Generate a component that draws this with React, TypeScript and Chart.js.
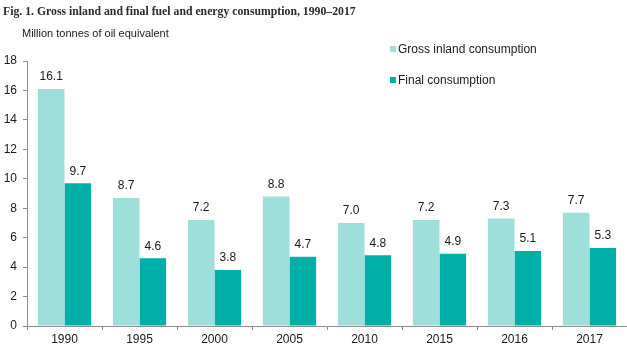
import React, { useEffect, useRef } from "react";
import { Chart, registerables } from "chart.js";

Chart.register(...registerables);

const categories = ["1990", "1995", "2000", "2005", "2010", "2015", "2016", "2017"];
const grossInland = [16.1, 8.7, 7.2, 8.8, 7.0, 7.2, 7.3, 7.7];
const finalConsumption = [9.7, 4.6, 3.8, 4.7, 4.8, 4.9, 5.1, 5.3];
const seriesNames = ["Gross inland consumption", "Final consumption"];
const titleText = "Fig. 1. Gross inland and final fuel and energy consumption, 1990\u20132017";
const unitText = "Million tonnes of oil equivalent";

const LIGHT = "#9EDFDC";
const DARK = "#00AFA8";
const SANS = "'Liberation Sans', Arial, sans-serif";

const valueLabels = {
  id: "valueLabels",
  afterDatasetsDraw(chart: any) {
    const ctx = chart.ctx;
    ctx.save();
    ctx.font = `12px ${SANS}`;
    ctx.fillStyle = "#1a1a1a";
    ctx.textAlign = "center";
    ctx.textBaseline = "bottom";
    chart.data.datasets.forEach((ds: any, i: number) => {
      const meta = chart.getDatasetMeta(i);
      meta.data.forEach((bar: any, j: number) => {
        ctx.fillText(Number(ds.data[j]).toFixed(1), bar.x, bar.y - 6);
      });
    });
    ctx.restore();
  },
};

export default function App() {
  const ref = useRef<HTMLCanvasElement>(null);
  useEffect(() => {
    if (!ref.current) return;
    const chart = new Chart(ref.current, {
      type: "bar",
      data: {
        labels: categories,
        datasets: [
          { label: seriesNames[0], data: grossInland, backgroundColor: LIGHT, borderWidth: 0 },
          { label: seriesNames[1], data: finalConsumption, backgroundColor: DARK, borderWidth: 0 },
        ],
      },
      options: {
        animation: false,
        responsive: false,
        maintainAspectRatio: false,
        layout: { padding: { left: 0, right: 0, top: 61, bottom: 0 } },
        plugins: { legend: { display: false }, tooltip: { enabled: false }, title: { display: false } },
        datasets: { bar: { categoryPercentage: 0.71, barPercentage: 1 } },
        scales: {
          x: {
            grid: { display: true, drawOnChartArea: false, offset: true, tickLength: 4, color: "#8c8c8c" },
            border: { display: true, color: "#8c8c8c" },
            ticks: { color: "#1a1a1a", font: { family: SANS, size: 12 }, padding: 2, maxRotation: 0 },
            afterFit: (s: any) => { s.height = 24; },
          },
          y: {
            min: 0,
            max: 18,
            grid: { display: true, drawOnChartArea: false, tickLength: 4, color: "#8c8c8c" },
            border: { display: true, color: "#8c8c8c" },
            ticks: { stepSize: 2, color: "#1a1a1a", font: { family: SANS, size: 12 }, padding: 6 },
            afterFit: (s: any) => { s.width = 27; },
          },
        },
      },
      plugins: [valueLabels],
    });
    return () => chart.destroy();
  }, []);

  const legendItem = (name: string, color: string, top: number) => (
    <div style={{ position: "absolute", left: 390, top, display: "flex", alignItems: "center", font: `12px ${SANS}`, color: "#1a1a1a", whiteSpace: "nowrap" }}>
      <span style={{ display: "inline-block", width: 6, height: 6, background: color, marginRight: 2 }} />
      {name}
    </div>
  );

  return (
    <div style={{ position: "absolute", left: 0, top: 0, width: 627, height: 350, background: "#fff" }}>
      <canvas ref={ref} width={627} height={350} style={{ position: "absolute", left: 0, top: 0 }} />
      <div style={{ position: "absolute", left: 3, top: 5, font: "bold 11.75px 'Liberation Serif', serif", color: "#2a2a2a", whiteSpace: "nowrap" }}>{titleText}</div>
      <div style={{ position: "absolute", left: 22, top: 27, font: `11px ${SANS}`, color: "#1a1a1a", whiteSpace: "nowrap" }}>{unitText}</div>
      {legendItem(seriesNames[0], LIGHT, 42)}
      {legendItem(seriesNames[1], DARK, 73)}
    </div>
  );
}
